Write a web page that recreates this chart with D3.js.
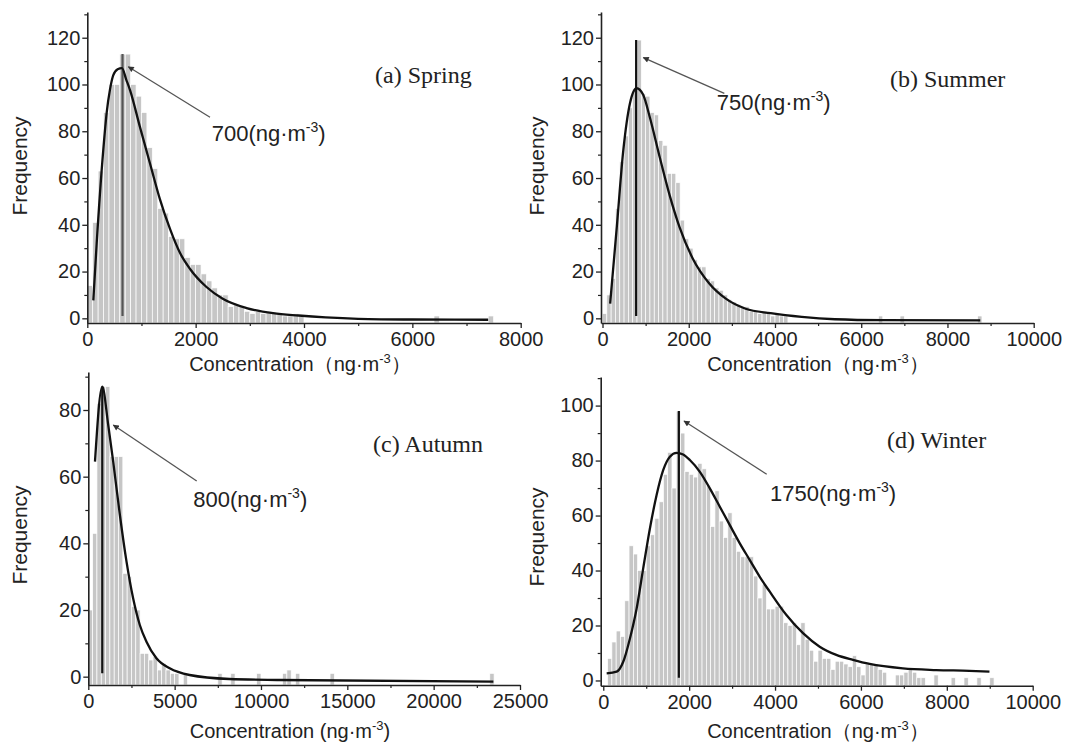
<!DOCTYPE html>
<html><head><meta charset="utf-8">
<script src="https://cdn.jsdelivr.net/npm/d3@7"></script>
<style>body{margin:0;background:#fff}svg{display:block}</style>
</head><body>
<svg id="c" width="1067" height="745"></svg>
<script>
// ---------------- DATA ----------------
const panelTitles = ["(a) Spring", "(b) Summer", "(c) Autumn", "(d) Winter"];
const modeLabels = ["700", "750", "800", "1750"];
const binWidths = [100, 100, 250, 100];

// histogram counts, bin i covers [i*bin, (i+1)*bin)
const springCounts = [14,41,63,88,100,100,113,113,100,95,88,73,64,47,45,35,34,34,26,23,23,19,16,13,10,10,5,6,5,3,2,3,2,3,2,2,1,1,2,1];
const springExtra = [[6400,1],[7400,1]];
const summerCounts = [2,10,17,47,67,78,90,98,119,96,95,88,87,76,74,62,62,58,42,34,30,25,22,22,17,16,13,12,10,8,7,6,5,5,3,3,2,3,2,1,2,1,1];
const summerExtra = [[6400,1],[6900,1],[8700,1]];
const autumnCounts = [20,43,82,87,87,66,66,66,31,30,21,20,7,7,5,6,2,4,2,1,1];
const autumnExtra = [[5500,1],[7500,1],[8250,1],[9750,1],[11250,1],[11500,2],[12000,1],[14000,1],[23250,1]];
const winterCounts = [0,8,14,18,16,29,49,46,40,40,
  49,53,59,65,75,83,70,98,90,76,
  75,74,79,77,71,56,69,58,52,61,
  52,47,45,45,45,38,30,35,26,26,
  27,27,21,20,21,13,21,15,11,7,
  11,8,8,4,7,7,6,5,9,5,
  2,6,6,6,4,3];
const winterExtra = [[6800,2],[6900,2],[7000,3],[7100,4],[7200,3],[7300,1],[7400,1],[7700,2],[8100,1],[8400,1],[8700,1],[9000,1]];

// fitted (log-normal) curves: [concentration, frequency]
const springFit = [[111,7.7],[173,32],[295,72],[358,88],[420,98],[480,104],[560,106.5],[640,107],[720,102],[790,97.5],[970,82],[1160,66],[1340,51],[1530,38],[1710,28],[1900,21],[2200,13.4],[2500,8.4],[2940,4.4],[3430,2.2],[3900,1.2],[4400,0.4],[5000,-0.2],[6000,-0.5],[7400,-0.6]];
const summerFit = [[177,6.3],[331,39],[483,72],[637,92],[790,98.4],[943,95.6],[1097,86],[1326,69],[1556,52.7],[1786,39],[2092,25.6],[2476,14.9],[2860,8.4],[3320,4.1],[3900,2.2],[4620,0.6],[5390,-0.4],[6500,-0.8],[8760,-0.9]];
const autumnFit = [[387,64.5],[808,87],[1154,75.5],[1442,64.5],[1829,48.5],[2213,34.5],[2596,23.5],[2983,15.5],[3369,10.5],[3946,5.5],[4713,2.5],[5867,0.5],[8175,-0.7],[11060,-1],[23460,-1.5]];
const winterFit = [[79,2.6],[312,3.2],[465,6.8],[621,15.3],[777,26.2],[930,40.8],[1086,55.3],[1242,67.5],[1395,76.5],[1551,81.4],[1707,82.8],[1860,82.2],[2016,80.2],[2249,75.9],[2481,69.9],[2714,63.2],[2947,56.5],[3179,49.9],[3412,43.8],[3644,37.7],[3877,32.3],[4265,23.8],[4651,17.2],[5039,12.3],[5427,9.3],[5814,7.5],[6202,6],[6977,4.4],[7753,3.8],[8528,3.5],[8993,3.2]];

// mode marker lines: x position and top
const modeLineX = [650, 780, 808, 1760];
const modeLineTop = [113, 119, 87, 98];

// tick values
const xTicksSpring = [0,2000,4000,6000,8000];
const xTicks10k = [0,2000,4000,6000,8000,10000];
const xTicksAutumn = [0,5000,10000,15000,20000,25000];
const yTicks120 = [0,20,40,60,80,100,120];
const yTicks80 = [0,20,40,60,80];
const yTicks100 = [0,20,40,60,80,100];

// ---------------- LAYOUT ----------------
const FONT = "'Liberation Sans', Arial, Helvetica, sans-serif";
const SERIF = "'Liberation Serif', 'Times New Roman', serif";
const panels = [
  {counts: springCounts, extra: springExtra, bin: binWidths[0], fit: springFit,
   xDom:[0,8000], xR:[87.3,520.7], yDom:[-2,131], yR:[323,12],
   xT: xTicksSpring, xStep:1000, yT: yTicks120,
   titleAt:[375,83], yLabAt:[27,166], xLabAt:[300,371], paren:["（","）"],
   tip:[757,107.6], tail:[2265,86], textAt:[2296,75.8], lineColor:"#555"},
  {counts: summerCounts, extra: summerExtra, bin: binWidths[1], fit: summerFit,
   xDom:[-35,10000], xR:[601,1033.7], yDom:[-2,131], yR:[323,12],
   xT: xTicks10k, xStep:1000, yT: yTicks120,
   titleAt:[890,87], yLabAt:[544,166], xLabAt:[818,371], paren:["（","）"],
   tip:[946,111.5], tail:[2825,96.2], textAt:[2648,89.1], lineColor:"#111"},
  {counts: autumnCounts, extra: autumnExtra, bin: binWidths[2], fit: autumnFit,
   xDom:[0,25000], xR:[88.3,520], yDom:[-2.5,91.4], yR:[685,372],
   xT: xTicksAutumn, xStep:2500, yT: yTicks80,
   titleAt:[373,452], yLabAt:[27,535], xLabAt:[290,738], paren:[" (",")"],
   tip:[1448,75.5], tail:[6278,58.7], textAt:[6081,51], lineColor:"#111"},
  {counts: winterCounts, extra: winterExtra, bin: binWidths[3], fit: winterFit,
   xDom:[-60,10000], xR:[600.7,1032.7], yDom:[-1.9,110.4], yR:[685.7,377],
   xT: xTicks10k, xStep:1000, yT: yTicks100,
   titleAt:[887,448], yLabAt:[544,537], xLabAt:[818,738], paren:["（","）"],
   tip:[1880,94.4], tail:[3806,75.0], textAt:[3883,65.3], lineColor:"#111"}
];

const svg = d3.select("#c");
const defs = svg.append("defs");
defs.append("marker").attr("id","ah").attr("viewBox","0 0 10 10").attr("refX",9).attr("refY",5)
  .attr("markerWidth",7).attr("markerHeight",6).attr("markerUnits","userSpaceOnUse").attr("orient","auto-start-reverse")
  .append("path").attr("d","M0,0L10,5L0,10Z").attr("fill","#333");

panels.forEach((p, k) => {
  const g = svg.append("g");
  const x = d3.scaleLinear().domain(p.xDom).range(p.xR);
  const y = d3.scaleLinear().domain(p.yDom).range(p.yR);
  const base = y(p.yDom[0]);

  // bars
  const bars = p.counts.map((c, i) => ({x0: i * p.bin, v: c}))
    .concat(p.extra.map(d => ({x0: d[0], v: d[1]})))
    .filter(d => d.v > 0);
  g.append("g").selectAll("rect").data(bars).join("rect")
    .attr("x", d => x(d.x0))
    .attr("width", d => Math.max(0.5, x(d.x0 + p.bin) - x(d.x0)))
    .attr("y", d => y(d.v))
    .attr("height", d => base - y(d.v))
    .attr("fill", "#c6c6c6").attr("stroke", "#fff").attr("stroke-width", 0.7);

  // mode line
  g.append("line").attr("x1", x(p.lineX || modeLineX[k])).attr("x2", x(modeLineX[k]))
    .attr("y1", y(1)).attr("y2", y(modeLineTop[k]))
    .attr("stroke", p.lineColor).attr("stroke-width", 2.2);

  // fit curve
  g.append("path").datum(p.fit)
    .attr("d", d3.line().x(d => x(d[0])).y(d => y(d[1])).curve(d3.curveMonotoneX))
    .attr("fill", "none").attr("stroke", "#111").attr("stroke-width", 2.3);

  // axes
  const xMinor = d3.range(p.xDom[0] < 0 ? 0 : 0, p.xDom[1] + 1, p.xStep).filter(v => !p.xT.includes(v));
  const yMinor = d3.range(10, p.yDom[1], 20);
  const styleAxis = sel => {
    sel.select(".domain").attr("stroke", "#222").attr("stroke-width", 1.6);
    sel.selectAll(".tick line").attr("stroke", "#222").attr("stroke-width", 1.3);
    sel.selectAll("text").attr("font-family", FONT).attr("font-size", 20).attr("fill", "#222");
  };
  const xAxisG = g.append("g").attr("transform", `translate(0,${base})`)
    .call(d3.axisBottom(x).tickValues(p.xT).tickFormat(d3.format("d")).tickSize(5).tickPadding(4).tickSizeOuter(0))
    .call(styleAxis);
  g.append("g").attr("transform", `translate(0,${base})`)
    .call(d3.axisBottom(x).tickValues(xMinor).tickFormat("").tickSize(3).tickSizeOuter(0))
    .call(s => { s.select(".domain").remove(); s.selectAll("line").attr("stroke","#222").attr("stroke-width",1.2); });
  const yAxisG = g.append("g").attr("transform", `translate(${p.xR[0]},0)`)
    .call(d3.axisLeft(y).tickValues(p.yT).tickFormat(d3.format("d")).tickSize(5).tickPadding(2).tickSizeOuter(0))
    .call(styleAxis);
  g.append("g").attr("transform", `translate(${p.xR[0]},0)`)
    .call(d3.axisLeft(y).tickValues(yMinor).tickFormat("").tickSize(3).tickSizeOuter(0))
    .call(s => { s.select(".domain").remove(); s.selectAll("line").attr("stroke","#222").attr("stroke-width",1.2); });

  // axis titles
  g.append("text").attr("transform", `translate(${p.yLabAt[0]},${p.yLabAt[1]}) rotate(-90)`)
    .attr("text-anchor", "middle").attr("font-family", FONT).attr("font-size", 21).attr("fill", "#222")
    .text("Frequency");
  const xt = g.append("text").attr("x", p.xLabAt[0]).attr("y", p.xLabAt[1])
    .attr("text-anchor", "middle").attr("font-family", FONT).attr("font-size", 20).attr("fill", "#222");
  xt.append("tspan").text("Concentration" + p.paren[0] + "ng·m");
  xt.append("tspan").attr("dy", -8).attr("font-size", 13).text("-3");
  xt.append("tspan").attr("dy", 8).text(p.paren[1]);

  // panel title
  g.append("text").attr("x", p.titleAt[0]).attr("y", p.titleAt[1])
    .attr("font-family", SERIF).attr("font-size", 24).attr("fill", "#222").text(panelTitles[k]);

  // annotation
  g.append("line").attr("x1", x(p.tail[0])).attr("y1", y(p.tail[1]))
    .attr("x2", x(p.tip[0])).attr("y2", y(p.tip[1]))
    .attr("stroke", "#555").attr("stroke-width", 1.3).attr("marker-end", "url(#ah)");
  const at = g.append("text").attr("x", x(p.textAt[0])).attr("y", y(p.textAt[1]))
    .attr("font-family", FONT).attr("font-size", 22).attr("fill", "#222");
  at.append("tspan").text(modeLabels[k] + "(ng·m");
  at.append("tspan").attr("dy", -9).attr("font-size", 14).text("-3");
  at.append("tspan").attr("dy", 9).text(")");
});
</script>
</body></html>
